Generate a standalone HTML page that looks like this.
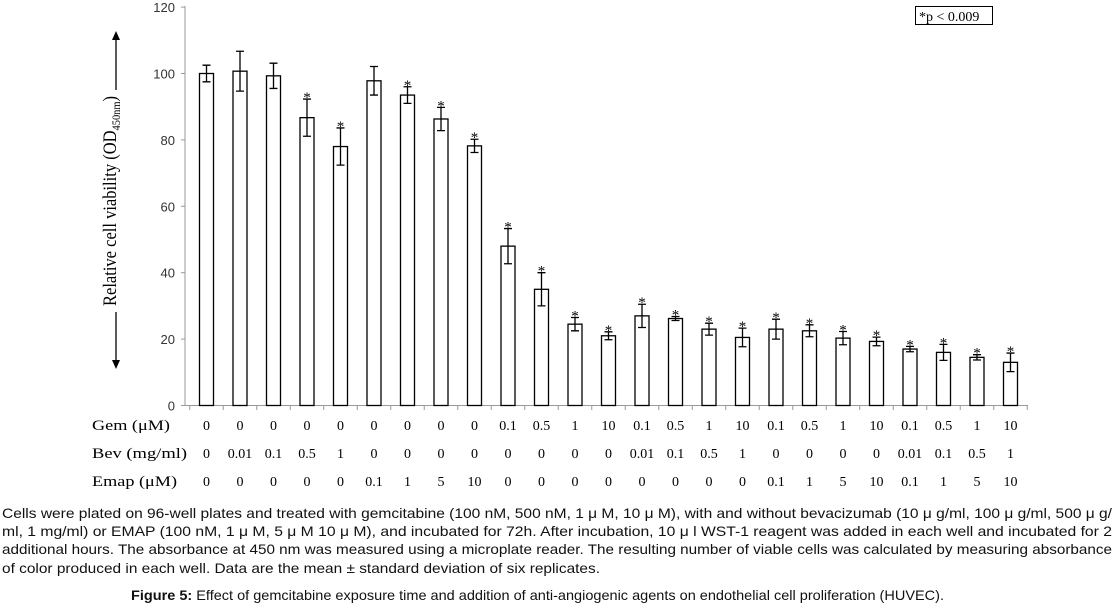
<!DOCTYPE html>
<html><head><meta charset="utf-8"><style>
html,body{margin:0;padding:0;background:#fff;}
svg{display:block;}
.tk{font-family:"Liberation Sans",sans-serif;font-size:13px;fill:#333;}
.sf{font-family:"Liberation Serif",serif;fill:#000;}
.cap{font-family:"Liberation Sans",sans-serif;font-size:14px;fill:#111;}
</style></head><body>
<svg id="s" width="1115" height="608" xmlns="http://www.w3.org/2000/svg">
<g id="g"></g>
<text class="sf" font-size="19" transform="translate(116,201) rotate(-90)" text-anchor="middle" textLength="210" lengthAdjust="spacingAndGlyphs">Relative cell viability (OD<tspan font-size="12" dy="4">450nm</tspan><tspan dy="-4">)</tspan></text>
<line x1="116" y1="90" x2="116" y2="38" stroke="#000" stroke-width="1.3"/>
<polygon points="112,40 120,40 116,31" fill="#000"/>
<line x1="116" y1="312" x2="116" y2="362" stroke="#000" stroke-width="1.3"/>
<polygon points="112,360 120,360 116,369" fill="#000"/>
<rect x="915.5" y="6.5" width="77" height="18" fill="none" stroke="#000" stroke-width="1"/>
<text class="sf" font-size="14" x="919" y="21">*p &lt; 0.009</text>
<text class="sf" font-size="15" x="92" y="430" textLength="78" lengthAdjust="spacingAndGlyphs">Gem (μM)</text>
<text class="sf" font-size="15" x="92" y="458" textLength="95" lengthAdjust="spacingAndGlyphs">Bev (mg/ml)</text>
<text class="sf" font-size="15" x="92" y="486" textLength="85" lengthAdjust="spacingAndGlyphs">Emap (μM)</text>
<text class="cap" x="2" y="518" textLength="1110" lengthAdjust="spacingAndGlyphs">Cells were plated on 96-well plates and treated with gemcitabine (100 nM, 500 nM, 1 μ M, 10 μ M), with and without bevacizumab (10 μ g/ml, 100 μ g/ml, 500 μ g/</text>
<text class="cap" x="2" y="536" textLength="1110" lengthAdjust="spacingAndGlyphs">ml, 1 mg/ml) or EMAP (100 nM, 1 μ M, 5 μ M 10 μ M), and incubated for 72h. After incubation, 10 μ l WST-1 reagent was added in each well and incubated for 2</text>
<text class="cap" x="2" y="554" textLength="1110" lengthAdjust="spacingAndGlyphs">additional hours. The absorbance at 450 nm was measured using a microplate reader. The resulting number of viable cells was calculated by measuring absorbance</text>
<text class="cap" x="2" y="573" textLength="598" lengthAdjust="spacingAndGlyphs">of color produced in each well. Data are the mean ± standard deviation of six replicates.</text>
<text class="cap" x="131" y="600" textLength="813" lengthAdjust="spacingAndGlyphs"><tspan font-weight="bold">Figure 5:</tspan> Effect of gemcitabine exposure time and addition of anti-angiogenic agents on endothelial cell proliferation (HUVEC).</text>
</svg>
<script>
var g=document.getElementById('g'),h='';
function Y(v){return 405.5-v*3.32;}
h+='<line x1="185" y1="6" x2="185" y2="406" stroke="#999"/>';
h+='<line x1="185" y1="405.5" x2="1028" y2="405.5" stroke="#999"/>';
for(var i=0;i<=6;i++){var y=Y(i*20);h+='<line x1="181" y1="'+y+'" x2="185" y2="'+y+'" stroke="#999"/><text class="tk" x="175" y="'+(y+5)+'" text-anchor="end">'+(i*20)+'</text>';}
var d=[[100,2.5,0],[100.7,6,0],[99.3,3.8,0],[86.7,5.6,1],[78,5.6,1],[97.8,4.3,0],[93.5,2.5,1],[86.3,3.5,1],[78.2,2,1],[48,5.3,1],[35,5,1],[24.5,2,1],[21,1.2,1],[27,3.5,1],[26.2,0.6,1],[23,1.8,1],[20.5,2.8,1],[23,3,1],[22.5,1.8,1],[20.3,2,1],[19.3,1.3,1],[17,0.8,1],[16,2.4,1],[14.5,0.8,1],[13,2.8,1]];
var gem="0 0 0 0 0 0 0 0 0 0.1 0.5 1 10 0.1 0.5 1 10 0.1 0.5 1 10 0.1 0.5 1 10".split(' ');
var bev="0 0.01 0.1 0.5 1 0 0 0 0 0 0 0 0 0.01 0.1 0.5 1 0 0 0 0 0.01 0.1 0.5 1".split(' ');
var em="0 0 0 0 0 0.1 1 5 10 0 0 0 0 0 0 0 0 0.1 1 5 10 0.1 1 5 10".split(' ');
for(var i=0;i<25;i++){var c=206.5+i*33.5,v=d[i];
var t=Y(v[0]);h+='<rect x="'+(c-7)+'" y="'+t+'" width="14" height="'+(405.5-t)+'" fill="#fff" stroke="#000" stroke-width="1.3"/>';
var a=Y(v[0]+v[1]),b=Y(v[0]-v[1]);
h+='<path d="M'+c+' '+a+'V'+b+'M'+(c-4)+' '+a+'H'+(c+4)+'M'+(c-4)+' '+b+'H'+(c+4)+'" stroke="#000" stroke-width="1.3" fill="none"/>';
if(v[2])h+='<text class="sf" font-size="15" x="'+c+'" y="'+(a+3)+'" text-anchor="middle">*</text>';
var tx=c+16.75;h+='<line x1="'+tx+'" y1="405.5" x2="'+tx+'" y2="410" stroke="#999"/>';
h+='<text class="sf" font-size="14" x="'+c+'" y="430" text-anchor="middle">'+gem[i]+'</text>';
h+='<text class="sf" font-size="14" x="'+c+'" y="458" text-anchor="middle">'+bev[i]+'</text>';
h+='<text class="sf" font-size="14" x="'+c+'" y="486" text-anchor="middle">'+em[i]+'</text>';}
h+='<line x1="189.75" y1="405.5" x2="189.75" y2="410" stroke="#999"/>';
g.innerHTML=h;
</script>
</body></html>
